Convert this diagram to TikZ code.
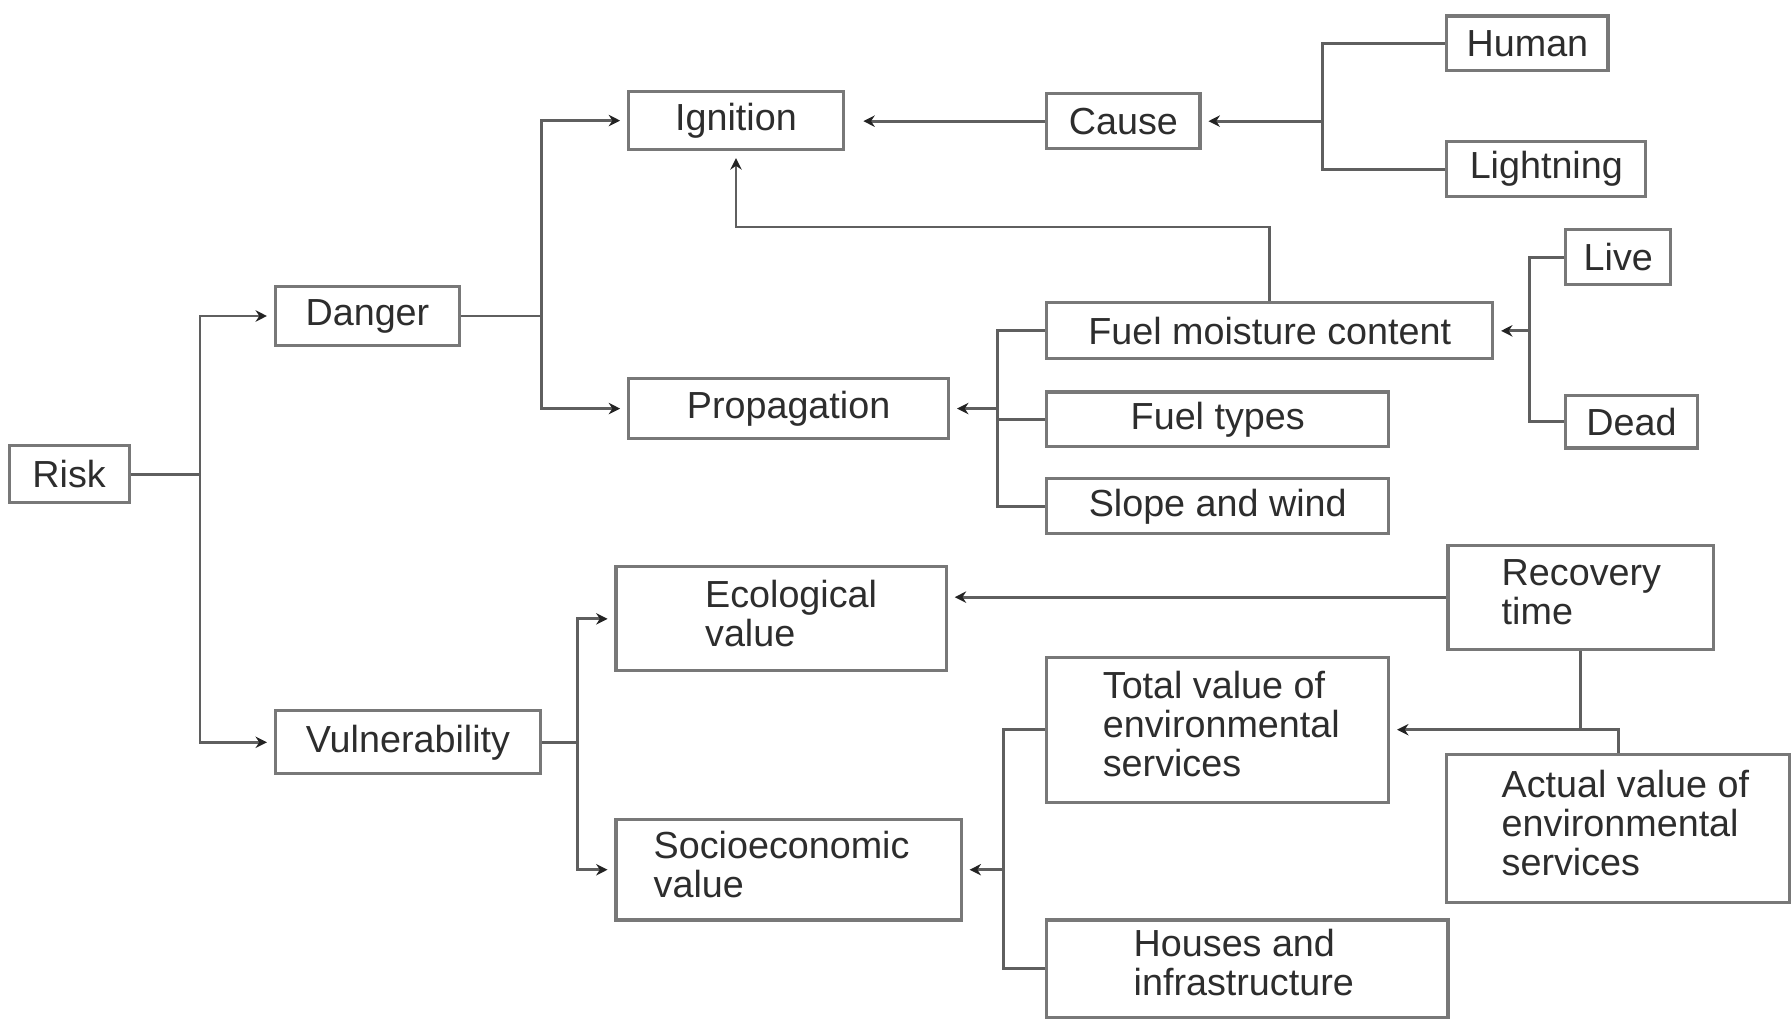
\documentclass[tikz,border=0pt]{standalone}
\usepackage{fontspec}
\setmainfont{Liberation Sans}
\usetikzlibrary{arrows.meta}
\definecolor{boxc}{RGB}{120,120,120}
\definecolor{linec}{RGB}{95,95,95}
\definecolor{txtc}{RGB}{45,45,45}
\definecolor{tipc}{RGB}{35,35,35}
\newcommand{\ml}[2]{\makebox[#1][l]{\begin{tabular}{@{}l@{}}#2\end{tabular}}}
\newcommand{\mybox}[6]{\node[bx, minimum width={(#4-#2)*0.5pt}, minimum height={(#5-#3)*0.5pt}] (#1) at ({(#2+#4)/2},{(#3+#5)/2}) {#6};}
\begin{document}
\begin{tikzpicture}[x=0.5pt,y=-0.5pt,
  bx/.style={draw=boxc, line width=1.4pt, fill=white, text=txtc, inner sep=0pt, font=\fontsize{16.5}{17}\selectfont},
  ln/.style={draw=linec, line width=1.2pt},
  ar/.style={ln, -{Stealth[length=5pt,width=5pt,color=tipc]}, shorten >=3pt}
]
\useasboundingbox (0,0) rectangle (1568,893);

\mybox{risk}{8}{390}{113}{440}{Risk}
\mybox{danger}{241}{251}{402}{302}{Danger}
\mybox{vuln}{241}{622}{473}{677}{Vulnerability}
\mybox{ign}{550}{80}{738}{131}{Ignition}
\mybox{prop}{550}{331}{830}{384}{Propagation}
\mybox{cause}{916}{82}{1050}{130}{Cause}
\mybox{human}{1266}{14}{1407}{62}{Human}
\mybox{light}{1266}{124}{1440}{172}{Lightning}
\mybox{fmc}{916}{265}{1306}{314}{Fuel moisture content}
\mybox{live}{1370}{201}{1462}{249}{Live}
\mybox{dead}{1370}{346}{1485}{392}{Dead}
\mybox{ftypes}{916}{343}{1215}{391}{Fuel types}
\mybox{slope}{916}{419}{1215}{467}{Slope and wind}
\mybox{eco}{539}{496}{828}{587}{\ml{66.5pt}{Ecological\\value}}
\mybox{recov}{1267}{477}{1499}{568}{\ml{69pt}{Recovery\\time}}
\mybox{total}{916}{575}{1215}{702}{\ml{100.5pt}{Total value of\\environmental\\services}}
\mybox{actual}{1266}{660}{1566}{790}{\ml{102pt}{Actual value of\\environmental\\services}}
\mybox{socio}{539}{717}{841}{805}{\ml{118pt}{Socioeconomic\\value}}
\mybox{houses}{916}{805}{1267}{890}{\ml{99.5pt}{Houses and\\infrastructure}}

% Risk
\coordinate (jr) at (175,415);
\draw[ln] (risk.east) -- (jr);
\draw[ar] (jr) |- (danger.west);
\draw[ar] (jr) |- (vuln.west);
% Danger
\coordinate (jd) at (474,276.5);
\draw[ln] (danger.east) -- (jd);
\draw[ar] (jd) |- (ign.west);
\draw[ar] (jd) |- (prop.west);
% Cause
\draw[ar, shorten >=8pt] (cause.west) -- (cause.west -| ign.east);
\coordinate (jc) at (1157,106);
\draw[ar] (jc) -- (cause.east);
\draw[ln] (jc) |- (human.west);
\draw[ln] (jc) |- (light.west);
% Fuel moisture -> Ignition
\draw[ar] (fmc.north) -- ++(0,-65) -| (ign.south);
% Live / Dead
\coordinate (jf) at (1338,289.5);
\draw[ar] (jf) -- (fmc.east);
\draw[ln] (jf) |- (live.west);
\draw[ln] (jf) |- (dead.west);
% Propagation
\coordinate (jp) at (873,357.5);
\draw[ar] (jp) -- (prop.east);
\draw[ln] (jp) |- (fmc.west);
\draw[ln] (jp) |- (ftypes.west);
\draw[ln] (jp) |- (slope.west);
% Vulnerability
\coordinate (jv) at (505,649.5);
\draw[ln] (vuln.east) -- (jv);
\draw[ar] (jv) |- (eco.west);
\draw[ar] (jv) |- (socio.west);
% Recovery time
\draw[ar] (recov.west) -- (recov.west -| eco.east);
\draw[ln] (recov.south) -- (recov.south |- total.east);
\draw[ar] (actual.north) |- (total.east);
% Socioeconomic
\coordinate (js) at (878,761);
\draw[ar] (js) -- (socio.east);
\draw[ln] (js) |- (total.west);
\draw[ln] (js) |- (houses.west);
\end{tikzpicture}
\end{document}
